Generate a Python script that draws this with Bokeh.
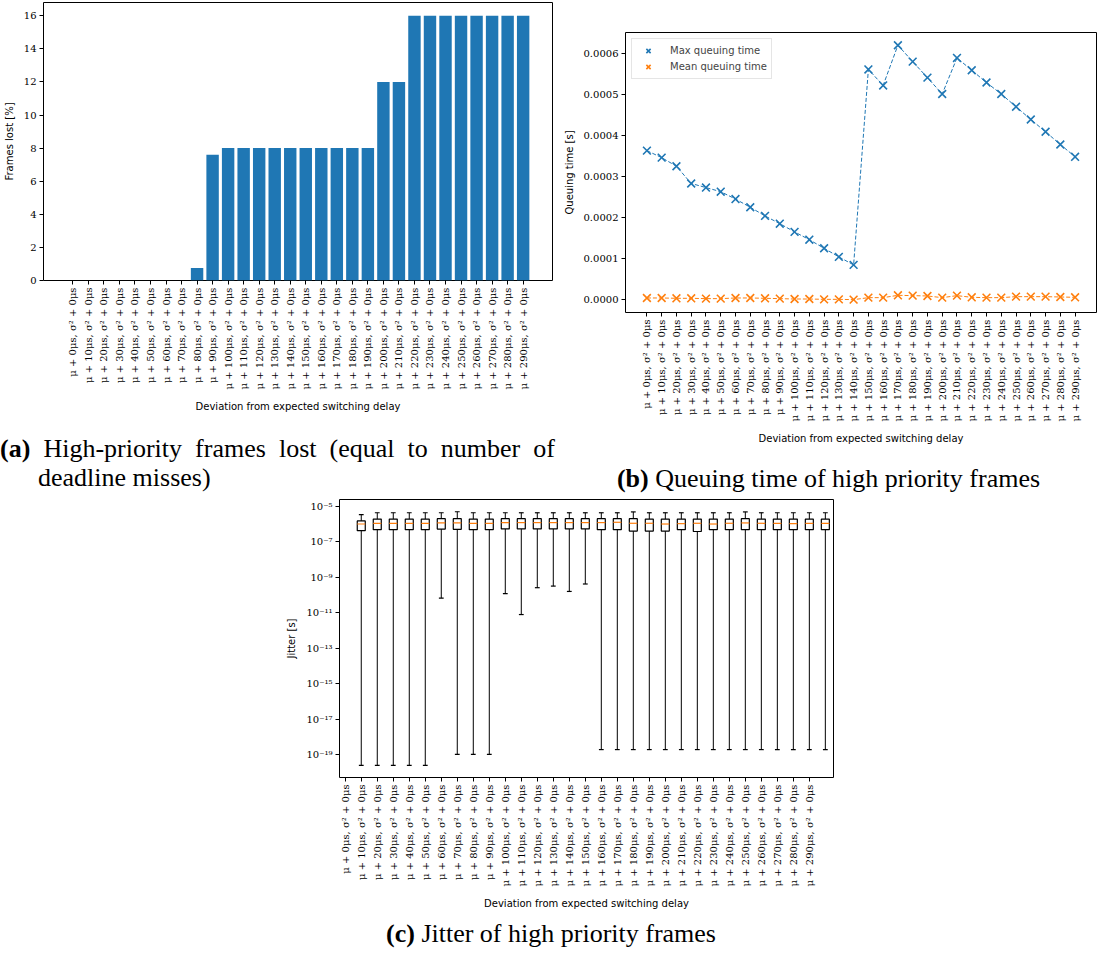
import math
from bokeh.plotting import figure
from bokeh.models import (Range1d, FixedTicker, PrintfTickFormatter, CustomJSTickFormatter,
                          Div, Spacer, ColumnDataSource)
from bokeh.transform import dodge
from bokeh.layouts import column, row
from bokeh.embed import file_html
from bokeh.resources import INLINE

# ---------------- data ----------------
offsets_us = [0, 10, 20, 30, 40, 50, 60, 70, 80, 90, 100, 110, 120, 130, 140,
              150, 160, 170, 180, 190, 200, 210, 220, 230, 240, 250, 260, 270, 280, 290]
tick_labels = [f"μ + {d}μs, σ² + 0μs" for d in offsets_us]
positions = list(range(30))

frames_lost = [0, 0, 0, 0, 0, 0, 0, 0, 0.75, 7.6,
               8, 8, 8, 8, 8, 8, 8, 8, 8, 8,
               12, 12, 16, 16, 16, 16, 16, 16, 16, 16]

max_queue = [0.000364, 0.000347, 0.000326, 0.000284, 0.000274, 0.000264, 0.000246,
             0.000226, 0.000205, 0.000186, 0.000166, 0.000147, 0.000126, 0.000105,
             0.0000855, 0.000562, 0.000523, 0.000621, 0.000581, 0.000542, 0.000502,
             0.000590, 0.000560, 0.000530, 0.000502, 0.000471, 0.000440, 0.000410,
             0.000379, 0.000349]
mean_queue = [0.0000049, 0.0000049, 0.0000041, 0.0000041, 0.0000033, 0.0000033,
              0.0000049, 0.0000049, 0.0000041, 0.0000033, 0.0000024, 0.0000024,
              0.0000016, 0.0000016, 0.0000008, 0.0000057, 0.0000057, 0.0000114,
              0.0000106, 0.0000098, 0.0000057, 0.0000106, 0.0000065, 0.0000057,
              0.0000057, 0.0000081, 0.0000081, 0.0000081, 0.0000073, 0.0000065]

# jitter box plots (boxes drawn at positions 1..30, ticks labelled at 0..29)
box_positions = list(range(1, 31))
jit_upper = [3.4e-6, 4.3e-6, 4.3e-6, 4.3e-6, 4.3e-6, 4.3e-6, 4.9e-6, 4.3e-6, 4.3e-6, 4.3e-6,
             4.3e-6, 4.3e-6, 4.3e-6, 4.3e-6, 4.3e-6, 4.3e-6, 4.3e-6, 4.8e-6, 4.3e-6, 4.3e-6,
             4.3e-6, 4.3e-6, 4.3e-6, 4.3e-6, 4.8e-6, 4.3e-6, 4.3e-6, 4.3e-6, 4.3e-6, 4.3e-6]
jit_q3 = [1.5e-6, 1.9e-6, 1.9e-6, 1.9e-6, 1.9e-6, 2.0e-6, 2.0e-6, 1.9e-6, 1.9e-6, 2.0e-6,
          2.0e-6, 2.0e-6, 2.0e-6, 2.0e-6, 2.0e-6, 2.0e-6, 2.0e-6, 2.0e-6, 1.9e-6, 1.9e-6,
          1.9e-6, 1.9e-6, 1.9e-6, 1.9e-6, 2.0e-6, 1.9e-6, 1.9e-6, 1.9e-6, 1.9e-6, 1.9e-6]
jit_median = [1.0e-6, 1.1e-6, 1.1e-6, 1.1e-6, 1.1e-6, 1.15e-6, 1.15e-6, 1.1e-6, 1.1e-6, 1.2e-6,
              1.2e-6, 1.2e-6, 1.2e-6, 1.2e-6, 1.2e-6, 1.2e-6, 1.25e-6, 1.1e-6, 1.1e-6, 1.0e-6,
              1.05e-6, 1.1e-6, 1.0e-6, 1.1e-6, 1.15e-6, 1.1e-6, 1.1e-6, 1.05e-6, 1.1e-6, 1.1e-6]
jit_q1 = [4.2e-7, 4.8e-7, 4.8e-7, 4.8e-7, 4.8e-7, 5.2e-7, 5.0e-7, 4.8e-7, 4.8e-7, 5.3e-7,
          5.3e-7, 5.3e-7, 5.3e-7, 5.3e-7, 5.3e-7, 4.8e-7, 4.8e-7, 4.0e-7, 4.0e-7, 4.0e-7,
          4.8e-7, 3.8e-7, 4.8e-7, 4.8e-7, 4.8e-7, 4.8e-7, 4.8e-7, 4.8e-7, 4.8e-7, 4.8e-7]
jit_lower = [2.6e-20, 2.6e-20, 2.6e-20, 2.6e-20, 2.6e-20, 6.8e-11, 1.07e-19, 1.07e-19, 1.07e-19,
             1.2e-10, 8e-12, 2.6e-10, 3.2e-10, 1.6e-10, 4.2e-10,
             2.0e-19, 2.0e-19, 2.0e-19, 2.0e-19, 2.0e-19, 2.0e-19, 2.0e-19, 2.0e-19, 2.0e-19,
             2.0e-19, 2.0e-19, 2.0e-19, 2.0e-19, 2.0e-19, 2.0e-19]

BLUE = "#1f77b4"
ORANGE = "#ff7f0e"
TICK_FONT = "DejaVu Serif"
LABEL_FONT = "DejaVu Sans"
CAPTION_FONT = "'Liberation Serif', 'Times New Roman', serif"


def style(p):
    p.outline_line_color = "black"
    p.outline_line_width = 1
    p.background_fill_color = "white"
    p.border_fill_color = "white"
    p.xgrid.grid_line_color = None
    p.ygrid.grid_line_color = None
    for ax in p.axis:
        ax.axis_line_color = None
        ax.major_tick_in = 0
        ax.major_tick_out = 4
        ax.major_tick_line_color = "black"
        ax.minor_tick_line_color = None
        ax.major_label_text_font = TICK_FONT
        ax.major_label_text_font_size = "10px"
        ax.major_label_text_color = "black"
        ax.axis_label_text_font = LABEL_FONT
        ax.axis_label_text_font_size = "10px"
        ax.axis_label_text_font_style = "normal"
        ax.axis_label_text_color = "black"
        ax.major_label_standoff = 3
    p.xaxis.major_label_orientation = math.pi / 2
    p.xaxis.ticker = FixedTicker(ticks=positions)
    p.xaxis.major_label_overrides = {i: lab for i, lab in zip(positions, tick_labels)}
    p.xaxis.axis_label = "Deviation from expected switching delay"
    p.xaxis.axis_label_standoff = 9
    p.yaxis.axis_label_standoff = 6


# ---------------- (a) frames lost ----------------
pa = figure(width=560, height=417, output_backend="svg", toolbar_location=None,
            x_range=Range1d(-1.89, 30.89), y_range=Range1d(0, 16.8),
            min_border_left=37, min_border_right=8, min_border_top=2, min_border_bottom=137)
pa.vbar(x=positions, top=frames_lost, width=0.8, color=BLUE, line_color=None)
style(pa)
pa.yaxis.ticker = FixedTicker(ticks=[0, 2, 4, 6, 8, 10, 12, 14, 16])
pa.yaxis.axis_label = "Frames lost [%]"

div_a = Div(text=(f'<div style="font-family:{CAPTION_FONT};font-size:26px;line-height:29px;'
                  'color:black;padding-top:17px;width:555px">'
                  '<div style="text-align:justify;text-align-last:justify"><b>(a)</b> High-priority '
                  'frames lost (equal to number of</div>'
                  '<div style="padding-left:38px">deadline misses)</div></div>'),
            width=555, height=80, margin=(0, 0, 0, 0))

# ---------------- (b) queuing time ----------------
pb = figure(width=537, height=447, output_backend="svg", toolbar_location=None,
            x_range=Range1d(-1.45, 30.45), y_range=Range1d(-0.0000305, 0.000652),
            min_border_left=62, min_border_right=1, min_border_top=32, min_border_bottom=135)
src_b = ColumnDataSource(dict(x=positions, mx=max_queue, mn=mean_queue))
pb.line("x", "mx", source=src_b, line_color=BLUE, line_width=1, line_dash="4 2")
pb.line("x", "mn", source=src_b, line_color=ORANGE, line_width=1, line_dash="4 2")
pb.scatter("x", "mx", source=src_b, marker="x", size=11, line_width=1.6, color=BLUE,
           legend_label="Max queuing time")
pb.scatter("x", "mn", source=src_b, marker="x", size=11, line_width=1.6, color=ORANGE,
           legend_label="Mean queuing time")
style(pb)
pb.yaxis.ticker = FixedTicker(ticks=[0.0, 0.0001, 0.0002, 0.0003, 0.0004, 0.0005, 0.0006])
pb.yaxis.formatter = PrintfTickFormatter(format="%.4f")
pb.yaxis.axis_label = "Queuing time [s]"
lg = pb.legend[0]
lg.location = "top_left"
lg.margin = 6
lg.padding = 4
lg.spacing = 1
lg.glyph_width = 24
lg.glyph_height = 15
lg.label_height = 15
lg.label_standoff = 10
lg.label_text_font = LABEL_FONT
lg.label_text_font_size = "10px"
lg.border_line_color = "#cccccc"
lg.border_line_width = 1
lg.background_fill_alpha = 0.8

div_b = Div(text=(f'<div style="font-family:{CAPTION_FONT};font-size:26px;line-height:29px;'
                  'color:black;padding-top:17px;padding-left:29px;text-align:center;width:508px">'
                  '<b>(b)</b> Queuing time of high priority frames</div>'),
            width=537, height=50, margin=(0, 0, 0, 0))

# ---------------- (c) jitter ----------------
pc = figure(width=560, height=417, output_backend="svg", toolbar_location=None,
            x_range=Range1d(-0.36, 30.51), y_range=Range1d(10 ** -20.27, 10 ** -4.62),
            y_axis_type="log",
            min_border_left=50, min_border_right=10, min_border_top=2, min_border_bottom=137)
src_c = ColumnDataSource(dict(pos=box_positions, up=jit_upper, q3=jit_q3, med=jit_median,
                              q1=jit_q1, lo=jit_lower))
pc.segment(x0="pos", x1="pos", y0="lo", y1="q1", source=src_c, line_color="black", line_width=1)
pc.segment(x0="pos", x1="pos", y0="q3", y1="up", source=src_c, line_color="black", line_width=1)
pc.segment(x0=dodge("pos", -0.15, range=pc.x_range), x1=dodge("pos", 0.15, range=pc.x_range),
           y0="lo", y1="lo", source=src_c, line_color="black", line_width=1.2)
pc.segment(x0=dodge("pos", -0.15, range=pc.x_range), x1=dodge("pos", 0.15, range=pc.x_range),
           y0="up", y1="up", source=src_c, line_color="black", line_width=1.2)
pc.vbar(x="pos", width=0.5, bottom="q1", top="q3", source=src_c, fill_color="white",
        line_color="black", line_width=1.2)
pc.segment(x0=dodge("pos", -0.25, range=pc.x_range), x1=dodge("pos", 0.25, range=pc.x_range),
           y0="med", y1="med", source=src_c, line_color=ORANGE, line_width=1.2)
style(pc)
pc.yaxis.ticker = FixedTicker(ticks=[1e-5, 1e-7, 1e-9, 1e-11, 1e-13, 1e-15, 1e-17, 1e-19])
pc.yaxis.formatter = CustomJSTickFormatter(code="""
const e = Math.round(Math.log10(tick));
const sup = {"-": "\u207b", "0": "\u2070", "1": "\u00b9", "2": "\u00b2", "3": "\u00b3",
             "4": "\u2074", "5": "\u2075", "6": "\u2076", "7": "\u2077", "8": "\u2078", "9": "\u2079"};
return "10" + String(e).split("").map(c => sup[c]).join("");
""")
pc.yaxis.axis_label = "Jitter [s]"

div_c = Div(text=(f'<div style="font-family:{CAPTION_FONT};font-size:26px;line-height:29px;'
                  'color:black;padding-top:5px;padding-right:12px;text-align:center;width:548px">'
                  '<b>(c)</b> Jitter of high priority frames</div>'),
            width=560, height=34, margin=(0, 0, 0, 0))

layout = column(
    row(column(pa, div_a, spacing=0), column(pb, div_b, spacing=0), spacing=0),
    row(Spacer(width=283, height=451), column(pc, div_c, spacing=0), spacing=0),
    spacing=0,
)

with open("out.html", "w", encoding="utf-8") as f:
    f.write(file_html(layout, INLINE))
